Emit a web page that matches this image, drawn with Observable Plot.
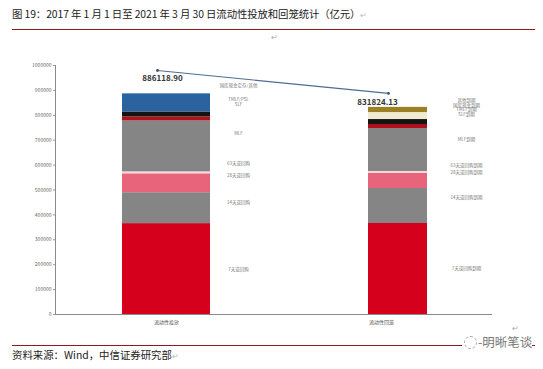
<!DOCTYPE html>
<html><head><meta charset="utf-8">
<script src="https://cdn.jsdelivr.net/npm/d3@7"></script>
<script src="https://cdn.jsdelivr.net/npm/@observablehq/plot@0.6"></script>
<style>
body{margin:0;background:#fff;font-family:"Noto Sans CJK SC","Noto Sans",sans-serif;}
#wrap{position:relative;width:543px;height:369px;overflow:hidden;background:#fff}
#title{position:absolute;left:12px;top:6px;font-size:10.4px;color:#222;white-space:nowrap;letter-spacing:-0.1px}
.ret{color:#bbb;font-size:8px}
.rule{position:absolute;left:12px;width:523px;height:1px;background:#8c1c1c}
#chart{position:absolute;left:0;top:40px}
#mark1{position:absolute;left:271px;top:31px;font-size:8px;color:#aaa}
#src{position:absolute;left:12px;top:347px;font-size:10.4px;color:#222;white-space:nowrap}
#wm{position:absolute;left:462px;top:332px;font-size:12.5px;color:#777;background:#fff;white-space:nowrap;padding-left:2px}
#wm .c{display:inline-block;width:11px;height:11px;border:1px dashed #aaa;border-radius:50%;vertical-align:-2px;margin-right:1px}
#mark2{position:absolute;left:512px;top:322px;font-size:8px;color:#aaa}
</style>
</head><body>
<div id="wrap">
  <div id="title">图 19：2017 年 1 月 1 日至 2021 年 3 月 30 日流动性投放和回笼统计（亿元）<span class="ret">↵</span></div>
  <div class="rule" style="top:29px"></div>
  <div id="mark1">↵</div>
  <div id="chart"></div>
  <div class="rule" style="top:345px"></div>
  <div id="mark2">↵</div>
  <div id="wm"><span class="c"></span>-明晰笔谈</div>
  <div id="src">资料来源：Wind，中信证券研究部<span class="ret">↵</span></div>
</div>
<script>
// ---- data ----
const categories = ["流动性投放", "流动性回笼"];
const totals = [886118.90, 831824.13];
const lineValues = [980000, 888000];
const yTicks = [0, 100000, 200000, 300000, 400000, 500000, 600000, 700000, 800000, 900000, 1000000];

const injectLabels = ["7天逆回购", "14天逆回购", "28天逆回购", "63天逆回购", "MLF", "SLF", "TMLF/PSL", "国库现金定存/其他"];
const injectSeries = ["r7", "r14", "r28", "r63", "mlf", "slf", "tmlf", "psl"];
const injectValues = [365000, 124000, 76000, 7800, 204500, 16000, 20000, 72819];

const drainLabels = ["7天逆回购到期", "14天逆回购到期", "28天逆回购到期", "63天逆回购到期", "MLF到期", "SLF到期", "TMLF到期", "国库现金到期", "其他到期"];
const drainSeries = ["r7", "r14", "r28", "r63", "mlf", "slf", "tmlf", "cash", "other"];
const drainValues = [365500, 140600, 60200, 8000, 172700, 16000, 20000, 28000, 20824];

const seriesKeys = ["r7", "r14", "r28", "r63", "mlf", "slf", "tmlf", "psl", "cash", "other"];
const seriesColors = ["#d5001b", "#858585", "#e8647a", "#f7d9de", "#858585", "#b0101c", "#141414", "#2a63a0", "#f1ead2", "#9c8026"];

// ---- tables ----
const rows1 = injectValues.map((v, i) => ({cat: categories[0], value: v, series: injectSeries[i], label: injectLabels[i]}));
const rows2 = drainValues.map((v, i) => ({cat: categories[1], value: v, series: drainSeries[i], label: drainLabels[i]}));
const lineRows = categories.map((c, i) => ({cat: c, value: lineValues[i]}));
const totalRows = categories.map((c, i) => ({cat: c, value: totals[i], text: totals[i].toFixed(2)}));

// one label per segment, each nudged so the small ones do not collide
const shifts1 = [0, -6, -8, -9, -13, -14, -14.5, -17];
const shifts2 = [0, -8, -8.5, -7, -10.5, -12, -12.5, -11, -9.5];
function segLabels(rows, shifts, dx) {
  return rows.map((r, k) => Plot.text(rows, Plot.stackY({
    x: "cat", y: "value", order: null,
    text: (d, i) => (i === k ? d.label : null),
    dx, dy: shifts[k], fontSize: 4.5, fill: "#777"
  })));
}

const plot = Plot.plot({
  width: 543,
  height: 290,
  marginLeft: 55,
  marginRight: 51,
  marginTop: 25,
  marginBottom: 16,
  style: {fontFamily: "'Noto Sans CJK SC','Noto Sans',sans-serif", background: "transparent"},
  x: {type: "band", domain: categories, paddingInner: 0.62, paddingOuter: 0.252, align: 0.565, axis: null},
  y: {domain: [0, 1000000], axis: null},
  color: {domain: seriesKeys, range: seriesColors},
  marks: [
    Plot.axisY({ticks: yTicks, tickFormat: d => String(d), label: null, tickSize: 2, tickPadding: 2, fontSize: 5, stroke: "#999", fill: "#666"}),
    Plot.frame({anchor: "left", stroke: "#8a8a8a"}),
    Plot.barY(rows1, Plot.stackY({x: "cat", y: "value", fill: "series", order: null})),
    Plot.barY(rows2, Plot.stackY({x: "cat", y: "value", fill: "series", order: null, insetLeft: 15, insetRight: 14})),
    Plot.ruleY([0], {stroke: "#8a8a8a", strokeWidth: 1.2}),
    ...segLabels(rows1, shifts1, 72),
    ...segLabels(rows2, shifts2, 69),
    Plot.text([categories[0]], {x: d => d, y: () => 0, text: d => d, dy: 8, fontSize: 5, fill: "#555"}),
    Plot.text([categories[1]], {x: d => d, y: () => 0, text: d => d, dy: 8, dx: -16, fontSize: 5, fill: "#555"}),
    Plot.line(lineRows, {x: "cat", y: "value", stroke: "#4f6d90", strokeWidth: 1.2, dx: -9}),
    Plot.dot(lineRows, {x: "cat", y: "value", r: 1.4, fill: "#3a5070", dx: -9}),
    Plot.text([totalRows[0]], {x: "cat", y: "value", text: "text", dy: -15, dx: -4, fontSize: 8, fontWeight: "bold", fill: "#333"}),
    Plot.text([totalRows[1]], {x: "cat", y: "value", text: "text", dy: -5, dx: -20, fontSize: 8, fontWeight: "bold", fill: "#333"})
  ]
});
document.getElementById("chart").appendChild(plot);
</script>
</body></html>
